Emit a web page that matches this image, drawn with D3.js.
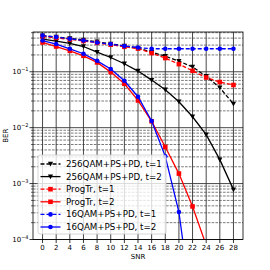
<!DOCTYPE html>
<html><head><meta charset="utf-8">
<script src="https://cdn.jsdelivr.net/npm/d3@7"></script>
<style>body{margin:0;background:#fff}svg{display:block}</style>
</head><body>
<script>
const snr = [0,2,4,6,8,10,12,14,16,18,20,22,24,26,28];
const qam256_t1 = [0.44,0.42,0.395,0.37,0.345,0.315,0.29,0.265,0.225,0.19,0.155,0.122,0.083,0.052,0.0265];
const qam256_t2 = [0.384,0.353,0.321,0.283,0.225,0.18,0.139,0.103,0.071,0.0477,0.0291,0.0157,0.0075,0.00268,0.00078];
const progtr_t1 = [0.43,0.405,0.38,0.355,0.33,0.305,0.28,0.26,0.216,0.176,0.137,0.104,0.079,0.0655,0.058];
const progtr_t2 = [0.334,0.283,0.237,0.193,0.147,0.0986,0.061,0.0307,0.013,0.00452,0.00151,0.00039,0.000079];
const qam16_t1 = [0.444,0.417,0.388,0.362,0.334,0.313,0.288,0.272,0.258,0.258,0.258,0.258,0.258,0.258,0.258];
const qam16_t2 = [0.362,0.313,0.258,0.21,0.157,0.112,0.069,0.0358,0.0132,0.00307,0.00031,0.000005];
const labels = ["256QAM+PS+PD, t=1","256QAM+PS+PD, t=2","ProgTr, t=1","ProgTr, t=2","16QAM+PS+PD, t=1","16QAM+PS+PD, t=2"];
const xTicks = [0,2,4,6,8,10,12,14,16,18,20,22,24,26,28];
const yTicks = [1e-4,1e-3,1e-2,1e-1];

const series = [
  {v:qam256_t1,color:"#000",dash:"4,2",marker:"tri"},
  {v:qam256_t2,color:"#000",dash:null,marker:"tri"},
  {v:progtr_t1,color:"#ff0000",dash:"4,2",marker:"sq"},
  {v:progtr_t2,color:"#ff0000",dash:null,marker:"sq"},
  {v:qam16_t1,color:"#0000ff",dash:"4,2",marker:"circ"},
  {v:qam16_t2,color:"#0000ff",dash:null,marker:"circ"}
];

const W=270,H=270, L=33,R=243,T=32,B=239.5;
const svg=d3.select("body").append("svg").attr("width",W).attr("height",H);
const x=d3.scaleLinear().domain([-1.4,29.4]).range([L,R]);
const y=d3.scaleLog().domain([1e-4,0.5146]).range([B,T]);
const font="DejaVu Sans, sans-serif";

svg.append("defs").append("clipPath").attr("id","clip")
  .append("rect").attr("x",L).attr("y",T).attr("width",R-L).attr("height",B-T);

const grid=svg.append("g");
const minors=[];
for(let e=-4;e<=-1;e++){for(let m=2;m<=9;m++){const v=m*Math.pow(10,e); if(v<=0.5146) minors.push(v);}}
grid.selectAll("line.mn").data(minors).join("line")
  .attr("x1",L).attr("x2",R).attr("y1",d=>y(d)).attr("y2",d=>y(d))
  .attr("stroke","#444").attr("stroke-width",0.7).attr("stroke-dasharray","2.6,1.2");
grid.selectAll("line.mj").data(yTicks).join("line")
  .attr("x1",L).attr("x2",R).attr("y1",d=>y(d)).attr("y2",d=>y(d))
  .attr("stroke","#333").attr("stroke-width",0.9);
grid.selectAll("line.vx").data(xTicks).join("line")
  .attr("x1",d=>x(d)).attr("x2",d=>x(d)).attr("y1",T).attr("y2",B)
  .attr("stroke","#333").attr("stroke-width",0.9);

function marker(g,type,cx,cy,color){
  if(type==="tri"){
    g.append("path").attr("d",`M${cx-2.6},${cy-2.2}L${cx+2.6},${cy-2.2}L${cx},${cy+2.6}Z`).attr("fill",color);
  } else if(type==="sq"){
    g.append("rect").attr("x",cx-2.3).attr("y",cy-2.3).attr("width",4.6).attr("height",4.6).attr("fill",color);
  } else {
    g.append("circle").attr("cx",cx).attr("cy",cy).attr("r",2.3).attr("fill",color);
  }
}

const plot=svg.append("g").attr("clip-path","url(#clip)");
const line=d3.line().x((d,i)=>x(snr[i])).y(d=>y(d));
series.forEach(s=>{
  const g=plot.append("g");
  g.append("path").attr("d",line(s.v)).attr("fill","none").attr("stroke",s.color)
   .attr("stroke-width",1.3).attr("stroke-dasharray",s.dash);
  s.v.forEach((v,i)=>marker(g,s.marker,x(snr[i]),y(v),s.color));
});

svg.append("rect").attr("x",L).attr("y",T).attr("width",R-L).attr("height",B-T)
  .attr("fill","none").attr("stroke","#000").attr("stroke-width",0.8);

const xa=svg.append("g");
xTicks.forEach(t=>{
  xa.append("line").attr("x1",x(t)).attr("x2",x(t)).attr("y1",B).attr("y2",B+3.5).attr("stroke","#000").attr("stroke-width",0.8);
  xa.append("text").attr("x",x(t)).attr("y",B+8.3).attr("text-anchor","middle").attr("dominant-baseline","central")
    .attr("font-family",font).attr("font-size",7).text(t);
});
svg.append("text").attr("x",(L+R)/2).attr("y",257).attr("text-anchor","middle").attr("dominant-baseline","central")
  .attr("font-family",font).attr("font-size",7).text("SNR");

const ya=svg.append("g");
minors.forEach(v=>{
  ya.append("line").attr("x1",L-2).attr("x2",L).attr("y1",y(v)).attr("y2",y(v)).attr("stroke","#000").attr("stroke-width",0.6);
});
yTicks.forEach(t=>{
  ya.append("line").attr("x1",L-3.5).attr("x2",L).attr("y1",y(t)).attr("y2",y(t)).attr("stroke","#000").attr("stroke-width",0.8);
  const e=Math.round(Math.log10(t));
  const tx=ya.append("text").attr("x",28.5).attr("y",y(t)+2.4).attr("text-anchor","end")
    .attr("font-family",font).attr("font-size",7);
  tx.append("tspan").text("10");
  tx.append("tspan").attr("font-size",5).attr("dy",-3).text("\u2212"+Math.abs(e));
});
svg.append("text").attr("transform",`translate(5.5,${(T+B)/2}) rotate(-90)`).attr("text-anchor","middle")
  .attr("dominant-baseline","central").attr("font-family",font).attr("font-size",7).text("BER");

const lg=svg.append("g");
lg.append("rect").attr("x",38).attr("y",155).attr("width",128).attr("height",79).attr("rx",2)
  .attr("fill","rgba(255,255,255,0.8)").attr("stroke","#ccc").attr("stroke-width",0.8);
series.forEach((s,i)=>{
  const cy=164+i*12.6;
  lg.append("line").attr("x1",40.5).attr("x2",60.5).attr("y1",cy).attr("y2",cy).attr("stroke",s.color)
    .attr("stroke-width",1.3).attr("stroke-dasharray",s.dash);
  marker(lg,s.marker,50.5,cy,s.color);
  lg.append("text").attr("x",66).attr("y",cy).attr("dominant-baseline","central")
    .attr("font-family",font).attr("font-size",8.7).text(labels[i]);
});
</script>
</body></html>
